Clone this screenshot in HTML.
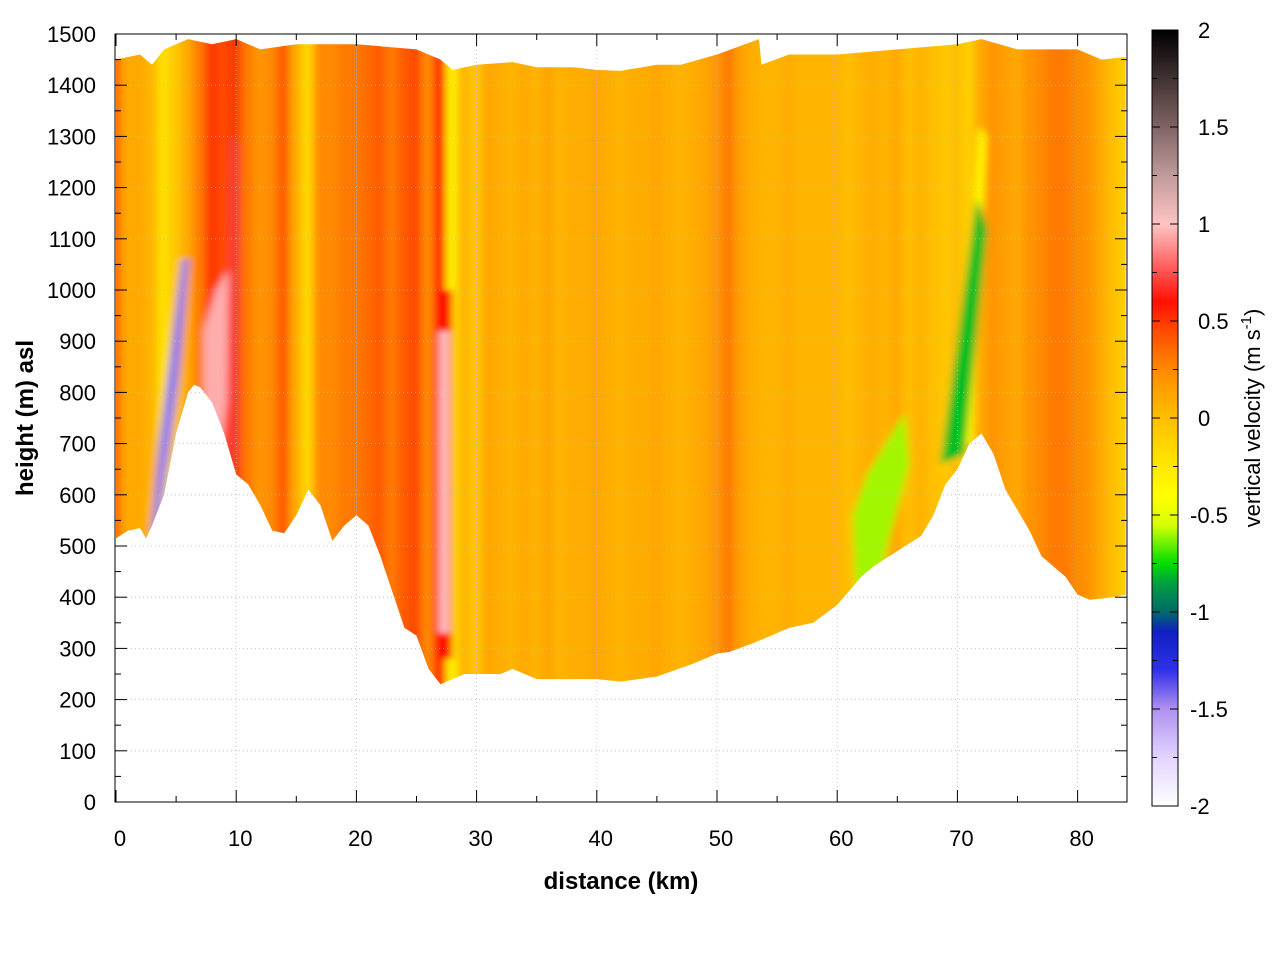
<!DOCTYPE html>
<html><head><meta charset="utf-8">
<style>
html,body{margin:0;padding:0;background:#fff;}
svg text{font-family:"Liberation Sans",sans-serif;}
</style></head>
<body>
<svg id="chart" width="1280" height="960" xmlns="http://www.w3.org/2000/svg">
<defs>
<clipPath id="terrainClip"><path id="clipPath" d=""/></clipPath>
<filter id="blur" x="-5%" y="-5%" width="110%" height="110%"><feGaussianBlur stdDeviation="4 3"/></filter>
<linearGradient id="cbGrad" x1="0" y1="1" x2="0" y2="0"></linearGradient>
</defs>
<g id="plotLayer"></g>
<g id="axisLayer"></g>
</svg>
<script>
// ---- data ----
const terrainKm = [0,1,2,2.5,3,4,5,6,6.5,7,8,9,10,11,12,13,14,15,16,17,18,19,20,21,22,23,24,25,26,27,28,29,30,32,33,35,40,42,45,48,50,51,53,56,58,60,62,63,65,67,68,69,70,71,72,73,74,75,76,77,78,79,80,81,83,84];
const terrainH = [515,530,535,515,540,600,720,800,815,810,780,720,640,620,580,530,525,560,610,580,510,540,560,540,480,410,340,325,260,230,240,250,250,250,260,240,240,235,245,270,290,293,310,340,350,385,440,460,490,520,560,620,650,700,720,680,610,570,530,480,460,440,405,395,400,405];
const topKm = [0,2,3,4,5,6,8,10,12,15,20,25,27,28,30,33,35,38,40,42,45,47,50,53.5,53.7,56,60,65,70,72,75,80,82,84];
const topH = [1450,1460,1440,1470,1480,1490,1480,1490,1470,1480,1480,1470,1450,1430,1440,1445,1435,1435,1430,1428,1440,1440,1460,1490,1440,1460,1460,1470,1480,1490,1470,1470,1450,1455];
const columnKm = Array.from({length:85},(_,i)=>i);
const columnW = [0.35,0.1,0.1,0.05,-0.2,-0.05,0.1,0.3,0.5,0.45,0.5,0.3,0.2,0.25,0.4,0.1,-0.15,0.25,0.25,0.3,0.3,0.35,0.4,0.3,0.4,0.45,0.25,0.55,-0.3,0.05,-0.05,0.12,0.08,0.05,0.1,0.05,0.12,0.05,0.08,0.08,0.12,0.08,0.05,0.08,0.08,0.12,0.08,0.05,0.08,0.12,0.18,0.3,0.15,0.08,0.05,0.05,0.08,0.05,0.05,0.05,0.05,0.0,0.05,0.08,0.05,0.1,0.0,0.05,0,-0.05,0.0,-0.1,0.1,0.2,0.15,0.1,0.2,0.25,0.3,0.3,0.25,0.2,0.1,0,-0.1];
// features: polygons [km,m] with value
const featureNames = ['downdraft-west','updraft-core-west','red-column-10km','updraft-27km','red-edge-27km','green-band-62km','downdraft-east','yellow-edge-east'];
const featureValues = [-1.45,0.95,0.7,1.0,0.6,-0.6,-0.8,-0.4];
const featureShapes = [
 [[2.9,520],[3.6,540],[5.2,820],[6.1,1060],[5.5,1060],[3.6,700]],
 [[7.3,780],[8.8,700],[9.6,850],[9.6,1050],[8.3,1000],[7.3,920]],
 [[9.2,700],[10.2,640],[10.3,1280],[9.5,1300]],
 [[26.9,330],[27.7,330],[27.7,920],[26.9,920]],
 [[26.6,280],[28.0,280],[28.0,1000],[26.6,1000]],
 [[61.5,420],[63.5,440],[66,660],[65.6,760],[62.5,640],[61.3,560]],
 [[68.6,660],[70.6,680],[72.5,1120],[71.6,1180]],
 [[70.4,700],[71.2,700],[72.4,1300],[71.8,1320]]
];
const cbTicks = [2,1.5,1,0.5,0,-0.5,-1,-1.5,-2];
const xTicks = [0,10,20,30,40,50,60,70,80];
const yTicks = [0,100,200,300,400,500,600,700,800,900,1000,1100,1200,1300,1400,1500];

// ---- scales ----
const X0=116, PXKM=12.02, Y0=802, PXM=768/1500;
const xs = k => X0 + k*PXKM;
const ys = h => Y0 - h*PXM;
const PL=115, PR=1127, PT=34, PB=802;
const cStops=[[-2,'#ffffff'],[-1.75,'#e2d4ff'],[-1.5,'#b090f0'],[-1.3,'#3030e8'],[-1.1,'#1020c0'],[-1,'#006a6a'],[-0.85,'#00a040'],[-0.75,'#00dd00'],[-0.55,'#d8ff00'],[-0.4,'#ffff00'],[-0.2,'#ffe000'],[0,'#ffbe00'],[0.25,'#ff8a00'],[0.45,'#ff4a00'],[0.6,'#ff1000'],[0.75,'#ff5050'],[1,'#ffc4c4'],[1.25,'#c09a9a'],[1.5,'#806464'],[2,'#000000']];
function hx(c){return [1,3,5].map(i=>parseInt(c.substr(i,2),16));}
function color(v){
  v=Math.max(-2,Math.min(2,v));
  for(let i=0;i<cStops.length-1;i++){
    const [a,ca]=cStops[i],[b,cb]=cStops[i+1];
    if(v>=a&&v<=b){const t=(v-a)/(b-a),A=hx(ca),B=hx(cb);
      return 'rgb('+A.map((x,j)=>Math.round(x+(B[j]-x)*t)).join(',')+')';}
  }
  return cStops[cStops.length-1][1];
}
const NS='http://www.w3.org/2000/svg';
function el(tag,attrs,parent){const e=document.createElementNS(NS,tag);for(const k in attrs)e.setAttribute(k,attrs[k]);parent.appendChild(e);return e;}

let d='M'+xs(topKm[0])+','+ys(topH[0]);
for(let i=1;i<topKm.length;i++) d+='L'+xs(topKm[i])+','+ys(topH[i]);
for(let i=terrainKm.length-1;i>=0;i--) d+='L'+xs(terrainKm[i])+','+ys(terrainH[i]);
d+='Z';
document.getElementById('clipPath').setAttribute('d',d);

const plot=document.getElementById('plotLayer');
const field=el('g',{'clip-path':'url(#terrainClip)'},plot);


const blurG=el('g',{filter:'url(#blur)'},field);
for(let i=0;i<columnKm.length;i++){
  const r=el('rect',{x:xs(columnKm[i]-0.5)-1,y:PT-20,width:PXKM+2,height:PB-PT+20,fill:color(columnW[i])},blurG);
  
  
}
const order=[4,0,1,2,3,7,5,6];
for(const i of order){
  const p=el('polygon',{points:featureShapes[i].map(q=>xs(q[0])+','+ys(q[1])).join(' '),fill:color(featureValues[i])},blurG);
  
  
}

const ax=document.getElementById('axisLayer');
for(const t of yTicks){ if(t===0||t===1500) continue;
  const g=el('line',{x1:PL,x2:PR,y1:ys(t),y2:ys(t),stroke:'#bbb','stroke-width':0.8,'stroke-dasharray':'1,3'},ax);
   }
for(const t of xTicks){ if(t===0) continue;
  const g=el('line',{x1:xs(t),x2:xs(t),y1:PT,y2:PB,stroke:'#bbb','stroke-width':0.8,'stroke-dasharray':'1,3'},ax);
   }
const frame=el('rect',{x:PL,y:PT,width:PR-PL,height:PB-PT,fill:'none',stroke:'#000','stroke-width':1},ax);
 
for(let t=0;t<=1500;t+=50){const L=(t%100===0)?12:6;
  el('line',{x1:PL,x2:PL+L,y1:ys(t),y2:ys(t),stroke:'#000'},ax);
  el('line',{x1:PR,x2:PR-L,y1:ys(t),y2:ys(t),stroke:'#000'},ax);}
for(let t=0;t<=84;t+=5){const L=(t%10===0)?12:6;
  el('line',{x1:xs(t),x2:xs(t),y1:PB,y2:PB-L,stroke:'#000'},ax);
  el('line',{x1:xs(t),x2:xs(t),y1:PT,y2:PT+L,stroke:'#000'},ax);}
for(const t of yTicks){const tx=el('text',{x:96,y:ys(t)+8,'text-anchor':'end','font-size':22},ax);tx.textContent=t;
   }
for(const t of xTicks){const tx=el('text',{x:xs(t)+4,y:846,'text-anchor':'middle','font-size':22},ax);tx.textContent=t;
   }
const xl=el('text',{x:621,y:889,'text-anchor':'middle','font-size':24,'font-weight':'bold'},ax);xl.textContent='distance (km)';
 
const yl=el('text',{x:0,y:0,'text-anchor':'middle','font-size':24,'font-weight':'bold',transform:'translate(33,418) rotate(-90)'},ax);yl.textContent='height (m) asl';
 

const grad=document.getElementById('cbGrad');
for(let v=-2;v<=2.0001;v+=0.05){el('stop',{offset:((v+2)/4*100).toFixed(2)+'%','stop-color':color(v)},grad);}
const CBX=1152,CBW=26,CBT=30,CBB=806;
const cbs=v=>CBB-(v+2)/4*(CBB-CBT);
const cb=el('rect',{x:CBX,y:CBT,width:CBW,height:CBB-CBT,fill:'url(#cbGrad)',stroke:'#000','stroke-width':1},ax);
 
for(let v=-2;v<=2.0001;v+=0.25){const L=(Math.abs(v*2-Math.round(v*2))<1e-6)?8:5;
  el('line',{x1:CBX,x2:CBX+L,y1:cbs(v),y2:cbs(v),stroke:'#000'},ax);
  el('line',{x1:CBX+CBW,x2:CBX+CBW-L,y1:cbs(v),y2:cbs(v),stroke:'#000'},ax);}
for(const t of cbTicks){const tx=el('text',{x:t<0?1190:1198,y:cbs(t)+8,'font-size':22},ax);tx.textContent=t;
   }
const cl=el('text',{x:0,y:0,'text-anchor':'middle','font-size':22,transform:'translate(1260,418) rotate(-90)'},ax);
cl.innerHTML='vertical velocity (m s<tspan dy="-9" font-size="15">-1</tspan><tspan dy="9">)</tspan>';
 
</script>
</body></html>
